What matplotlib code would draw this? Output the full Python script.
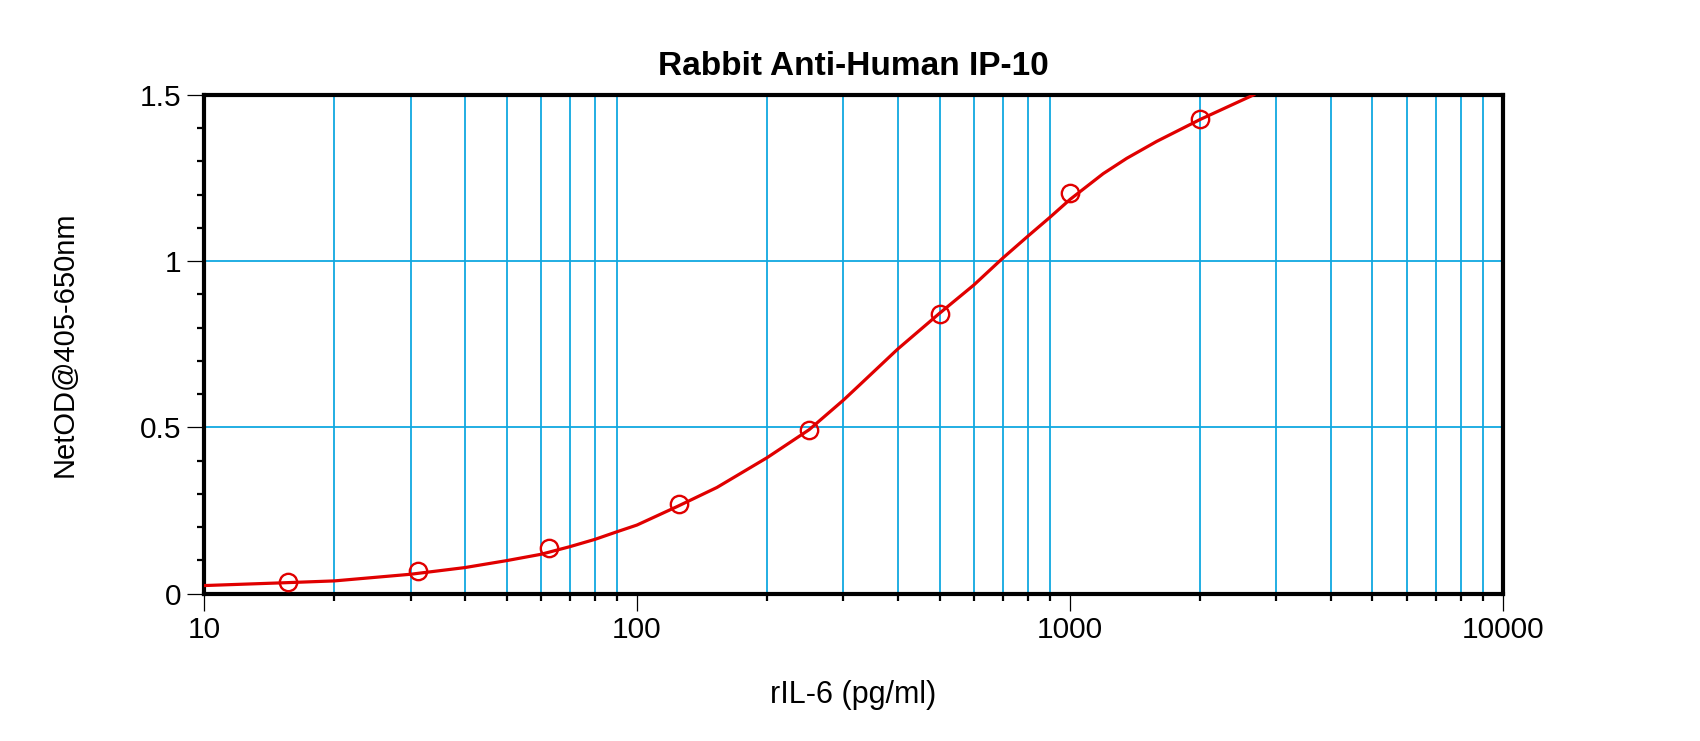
import numpy as np
import matplotlib
matplotlib.use("Agg")
from matplotlib import pyplot as plt
from matplotlib.ticker import FixedLocator, NullFormatter, MultipleLocator

# standards (pg/ml) and measured OD
conc = [15.6, 31.25, 62.5, 125, 250, 500, 1000, 2000]
od = [0.036, 0.068, 0.136, 0.270, 0.493, 0.841, 1.205, 1.426]

# fitted curve
curve_x = [10, 15, 20, 30, 40, 50, 60, 70, 80, 90, 100, 124, 153, 200,
           250, 300, 326, 400, 500, 600, 700, 800, 900, 1000, 1194, 1353,
           1587, 2000, 2658]
curve_y = [0.024, 0.032, 0.038, 0.058, 0.078, 0.099, 0.118, 0.141, 0.163,
           0.186, 0.206, 0.262, 0.319, 0.409, 0.493, 0.582, 0.626, 0.735,
           0.843, 0.928, 1.009, 1.075, 1.132, 1.185, 1.263, 1.309, 1.360,
           1.426, 1.5]

xticks = [10, 100, 1000, 10000]
xticklabels = ["10", "100", "1000", "10000"]
yticks = [0, 0.5, 1, 1.5]
yticklabels = ["0", "0.5", "1", "1.5"]


def main():
    plt.rcParams['font.family'] = ['Liberation Sans', 'DejaVu Sans']
    fig = plt.figure(figsize=(17, 7.41), dpi=100)
    ax = fig.add_axes([0.120, 0.199, 0.764, 0.673])

    grid_c = "#10a8e0"
    red = "#e00000"

    ax.set_xscale("log")
    ax.set_xlim(10, 10000)
    ax.set_ylim(0, 1.5)

    # grid at the minor decades and at 0.5 / 1
    minors = [m * d for d in (10, 100, 1000) for m in range(2, 10)]
    for v in minors:
        ax.axvline(v, color=grid_c, lw=1.3, zorder=1)
    for v in (0.5, 1.0):
        ax.axhline(v, color=grid_c, lw=1.3, zorder=1)

    ax.plot(curve_x, curve_y, color=red, lw=2.3, zorder=3)
    ax.plot(conc, od, ls="none", marker="o", ms=12.5, mfc="none",
            mec=red, mew=1.7, zorder=4)

    ax.xaxis.set_major_locator(FixedLocator(xticks))
    ax.set_xticklabels(xticklabels)
    ax.xaxis.set_minor_locator(FixedLocator(minors))
    ax.xaxis.set_minor_formatter(NullFormatter())
    ax.set_yticks(yticks)
    ax.set_yticklabels(yticklabels)
    ax.yaxis.set_minor_locator(MultipleLocator(0.1))

    for s in ax.spines.values():
        s.set_linewidth(3)
    ax.tick_params(axis="both", which="major", direction="out", length=12,
                   width=0.9, labelsize=21.5, pad=4)
    ax.tick_params(axis="both", which="minor", direction="out", length=5,
                   width=1.6)

    ax.set_title("Rabbit Anti-Human IP-10", fontsize=24, fontweight="bold",
                 pad=14)
    ax.set_xlabel("rIL-6 (pg/ml)", fontsize=22, labelpad=26)
    ax.set_ylabel("NetOD@405-650nm", fontsize=21, labelpad=44)

    fig.savefig("out.png", dpi=100)


if __name__ == "__main__":
    main()
